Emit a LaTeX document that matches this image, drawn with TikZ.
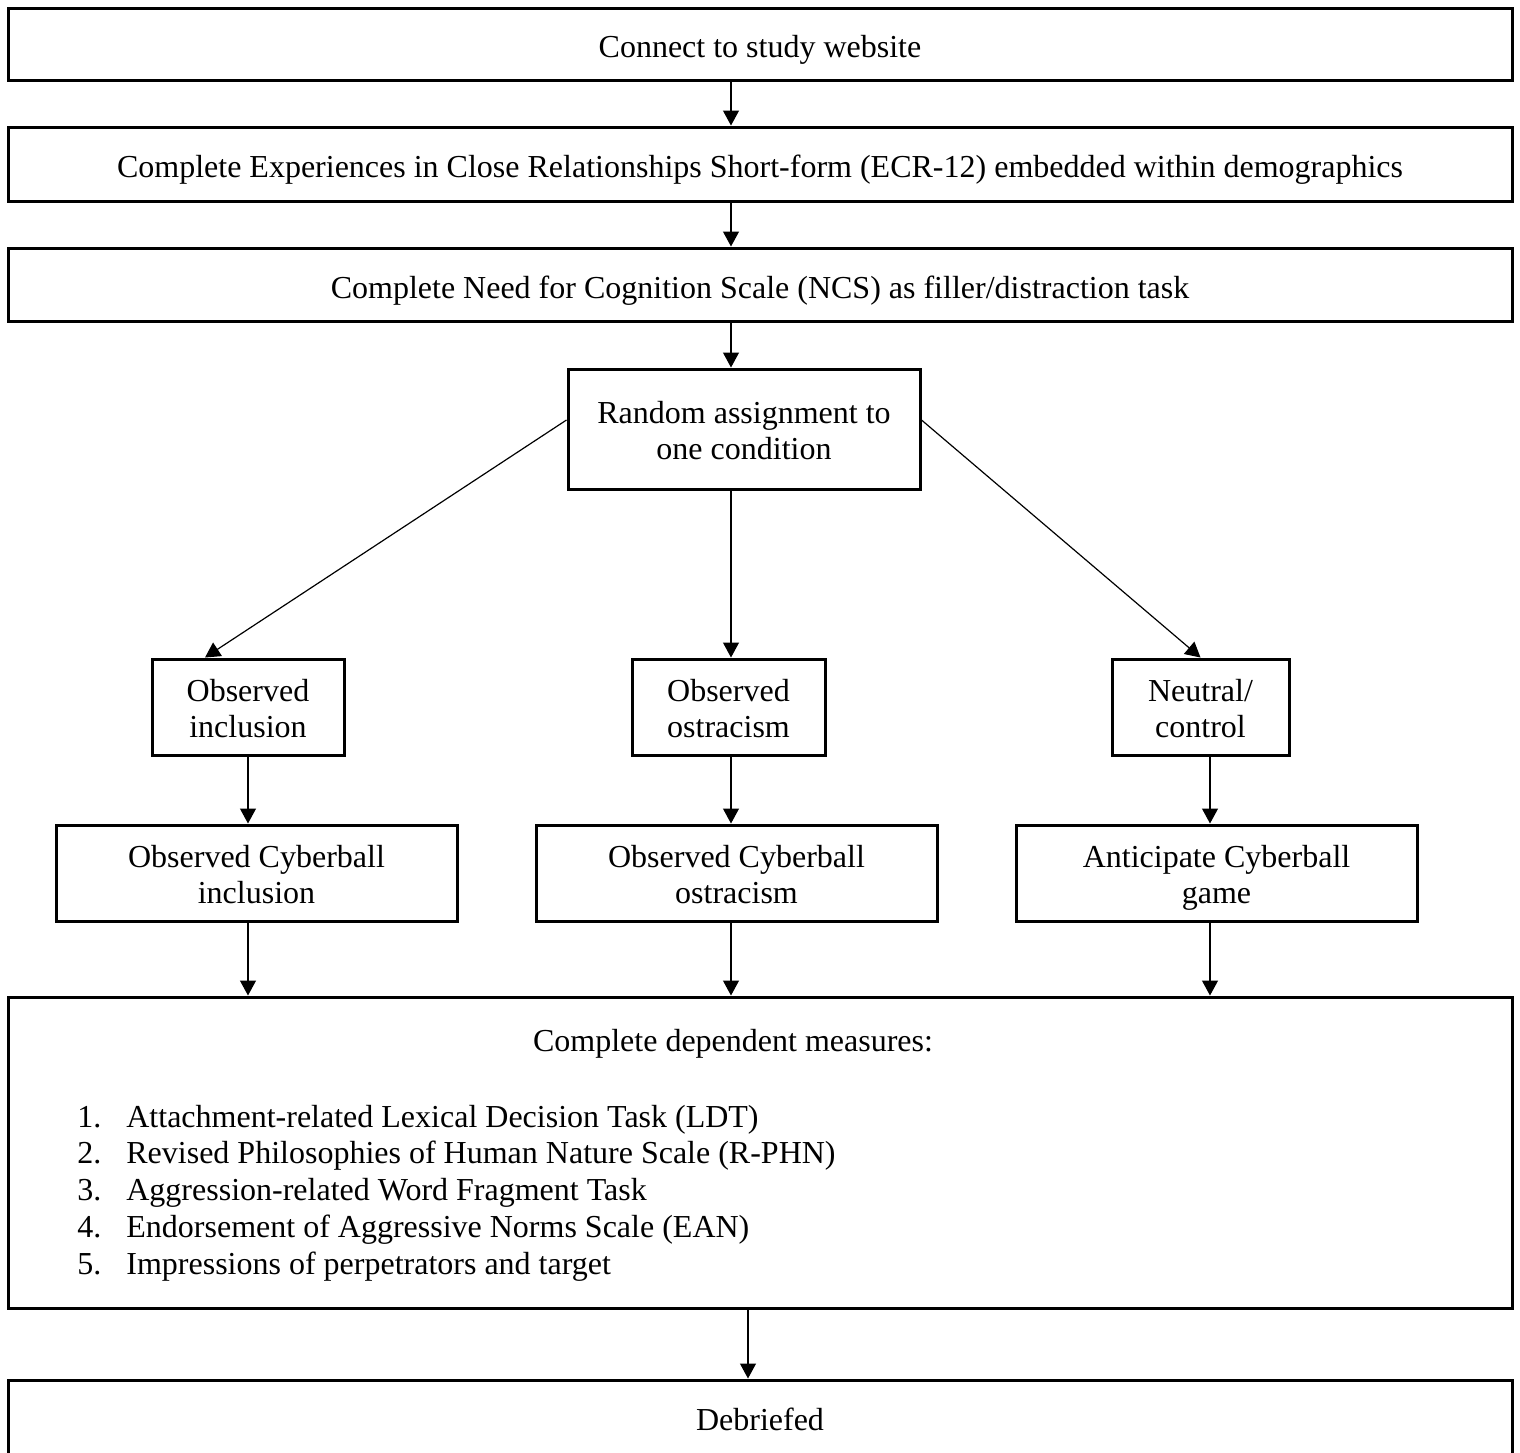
\documentclass[tikz,border=0pt]{standalone}
\usepackage{fontspec}
\setmainfont{Liberation Serif}
\usetikzlibrary{arrows.meta,calc}
\newcommand\onestrut{\rule[-5pt]{0pt}{23.6pt}}
\newcommand\twolines[2]{\begin{tabular}{@{}c@{}}\rule{0pt}{18pt}#1\\#2\rule[-6pt]{0pt}{6pt}\end{tabular}}
\begin{document}
\begin{tikzpicture}[x=0.5pt,y=-0.5pt,
  base/.style={draw=black,line width=1.5pt,rectangle,inner sep=0pt,
    font=\fontsize{16}{18}\selectfont},
  box/.style={base,execute at begin node={\onestrut},execute at end node={\onestrut}},
  twobox/.style={base},
  frame/.style={draw=black,line width=1.5pt,rectangle,inner sep=0pt},
  arr/.style={line width=0.6pt,-{Triangle[width=8pt,length=7.5pt]}},
  lbl/.style={inner sep=0pt,font=\fontsize{16}{18}\selectfont}]
\useasboundingbox (0,0) rectangle (1520,1452);
\fill[white] (0,0) rectangle (1520,1452);
\clip (0,0) rectangle (1520,1452);
% column coordinates for arrows
\coordinate (cx) at (731,0);
\coordinate (c1) at (248,0);
\coordinate (c3) at (1210,0);
\coordinate (cd) at (748,0);
% boxes
\node[box,minimum width=752pt,minimum height=36pt] (b1) at (760,44) {Connect to study website};
\node[box,minimum width=752pt,minimum height=37pt] (b2) at (760,164) {Complete Experiences in Close Relationships Short-form (ECR-12) embedded within demographics};
\node[box,minimum width=752pt,minimum height=36.5pt] (b3) at (760,284.5) {Complete Need for Cognition Scale (NCS) as filler/distraction task};
\node[twobox,minimum width=176pt,minimum height=60pt] (rnd) at (744,429) {\twolines{Random assignment to}{one condition}};
\node[twobox,minimum width=96pt,minimum height=48pt] (inc) at (248,707) {\twolines{Observed}{inclusion}};
\node[twobox,minimum width=96.5pt,minimum height=48pt] (ost) at (728.5,707) {\twolines{Observed}{ostracism}};
\node[twobox,minimum width=88.5pt,minimum height=48pt] (neu) at (1200.5,707) {\twolines{Neutral/}{control}};
\node[twobox,minimum width=200.5pt,minimum height=48pt] (cinc) at (256.5,873) {\twolines{Observed Cyberball}{inclusion}};
\node[twobox,minimum width=200.5pt,minimum height=48pt] (cost) at (736.5,873) {\twolines{Observed Cyberball}{ostracism}};
\node[twobox,minimum width=200.5pt,minimum height=48pt] (cant) at (1216.5,873) {\twolines{Anticipate Cyberball}{game}};
\node[frame,minimum width=752pt,minimum height=155.5pt] (meas) at (760,1152.5) {};
\node[frame,minimum width=752pt,minimum height=40pt] (deb) at (760,1420) {};
% texts inside large boxes
\node[lbl,anchor=base] (mtitle) at (733,1051) {Complete dependent measures:};
\node[lbl,anchor=base west] (mlist) at (77,1127) {%
  \fontsize{16}{18.4}\selectfont
  \begin{tabular}[t]{@{}p{24.5pt}@{}l@{}}
  1. & Attachment-related Lexical Decision Task (LDT)\\
  2. & Revised Philosophies of Human Nature Scale (R-PHN)\\
  3. & Aggression-related Word Fragment Task\\
  4. & Endorsement of Aggressive Norms Scale (EAN)\\
  5. & Impressions of perpetrators and target
  \end{tabular}};
\node[lbl,anchor=base] (dtext) at (760,1430) {Debriefed};
% connectors
\draw[arr] (b1.south -| cx) -- (b2.north -| cx);
\draw[arr] (b2.south -| cx) -- (b3.north -| cx);
\draw[arr] (b3.south -| cx) -- (rnd.north -| cx);
\draw[arr] ($(rnd.west)+(0,-9)$) -- ($(inc.north)+(-43,0)$);
\draw[arr] (rnd.south -| cx) -- (ost.north -| cx);
\draw[arr] ($(rnd.east)+(0,-9)$) -- (neu.north);
\draw[arr] (inc.south -| c1) -- (cinc.north -| c1);
\draw[arr] (ost.south -| cx) -- (cost.north -| cx);
\draw[arr] (neu.south -| c3) -- (cant.north -| c3);
\draw[arr] (cinc.south -| c1) -- (meas.north -| c1);
\draw[arr] (cost.south -| cx) -- (meas.north -| cx);
\draw[arr] (cant.south -| c3) -- (meas.north -| c3);
\draw[arr] (meas.south -| cd) -- (deb.north -| cd);
\end{tikzpicture}
\end{document}
